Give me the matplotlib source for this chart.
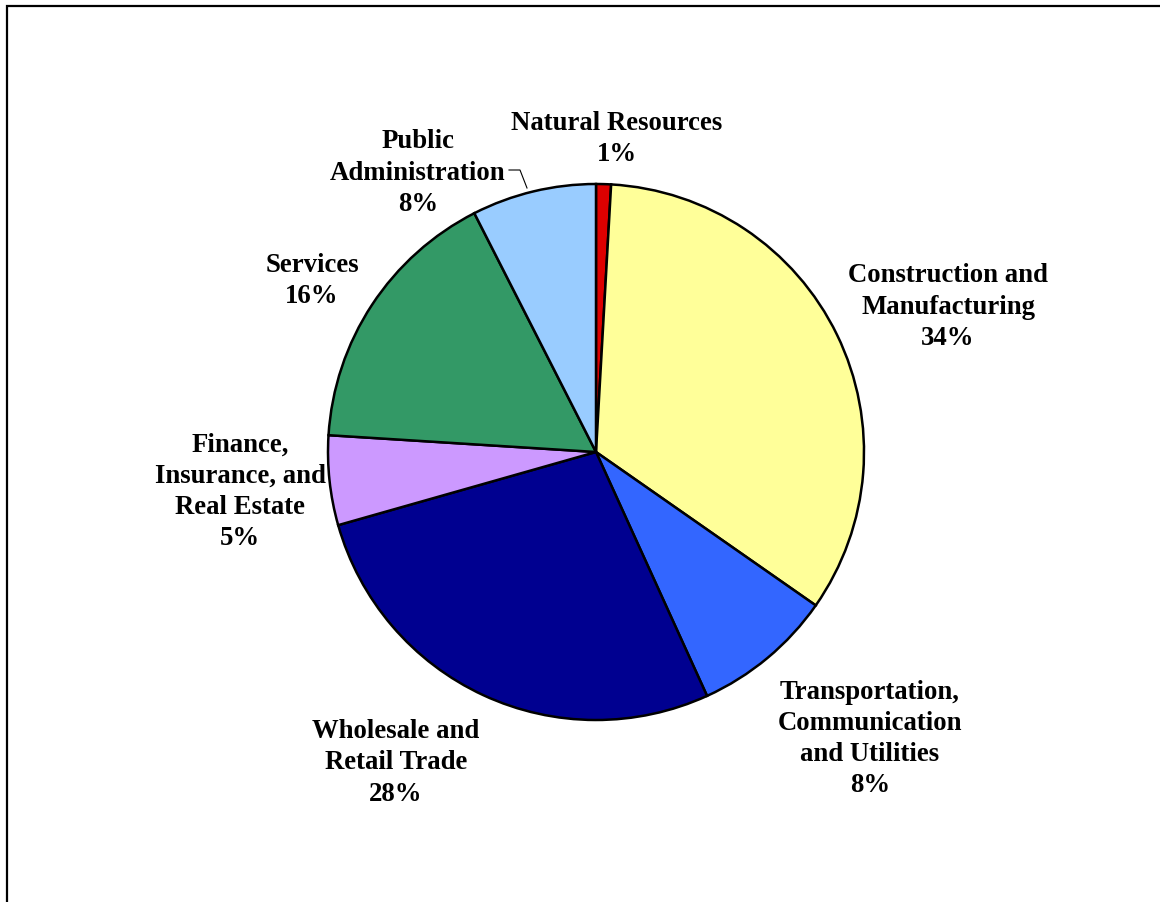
import matplotlib.pyplot as plt
from matplotlib.patches import Rectangle

# Data (clockwise from 12 o'clock)
sectors = [
    "Natural Resources",
    "Construction and\nManufacturing",
    "Transportation,\nCommunication\nand Utilities",
    "Wholesale and\nRetail Trade",
    "Finance,\nInsurance, and\nReal Estate",
    "Services",
    "Public\nAdministration",
]
shares = [0.9, 33.8, 8.5, 27.4, 5.4, 16.5, 7.5]
pct_labels = ["1%", "34%", "8%", "28%", "5%", "16%", "8%"]
colors = ["#DD0000", "#FFFF99", "#3366FF", "#000090", "#CC99FF", "#339966", "#99CCFF"]

W, H = 1160, 903
CX, CY, R = 596, 903 - 453, 268

# label centres, offset from the pie centre in pixels (x right, y down)
label_offsets = [(21, -314), (352, -146), (274, 286), (-200, 310),
                 (-356, 39), (-284, -172), (-178, -280)]


def plot() -> None:
    plt.rcParams["font.family"] = ["Liberation Serif", "DejaVu Serif"]
    fig = plt.figure(figsize=(W / 100, H / 100), dpi=100)
    ax = fig.add_axes([0, 0, 1, 1])

    ax.pie(shares, colors=colors, startangle=90, counterclock=False,
           center=(CX, CY), radius=R,
           wedgeprops=dict(edgecolor="black", linewidth=1.8))

    for name, pct, (dx, dy) in zip(sectors, pct_labels, label_offsets):
        ax.text(CX + dx, CY - dy, f"{name}\n{pct}", ha="center", va="center",
                fontsize=19.3, fontweight="bold", linespacing=1.33)

    # leader line for Public Administration
    ax.plot([509, 520, 527], [H - 171, H - 171, H - 189], color="black", lw=0.8)

    # chart area frame (right and bottom edges fall outside the image)
    ax.add_patch(Rectangle((7, -50), W + 50, H - 7 + 50, fill=False,
                           edgecolor="black", linewidth=1.6, clip_on=False))

    ax.set_xlim(0, W)
    ax.set_ylim(0, H)
    ax.set_aspect("equal")
    ax.axis("off")
    fig.savefig("out.png", dpi=100, facecolor="white")


if __name__ == "__main__":
    plot()
